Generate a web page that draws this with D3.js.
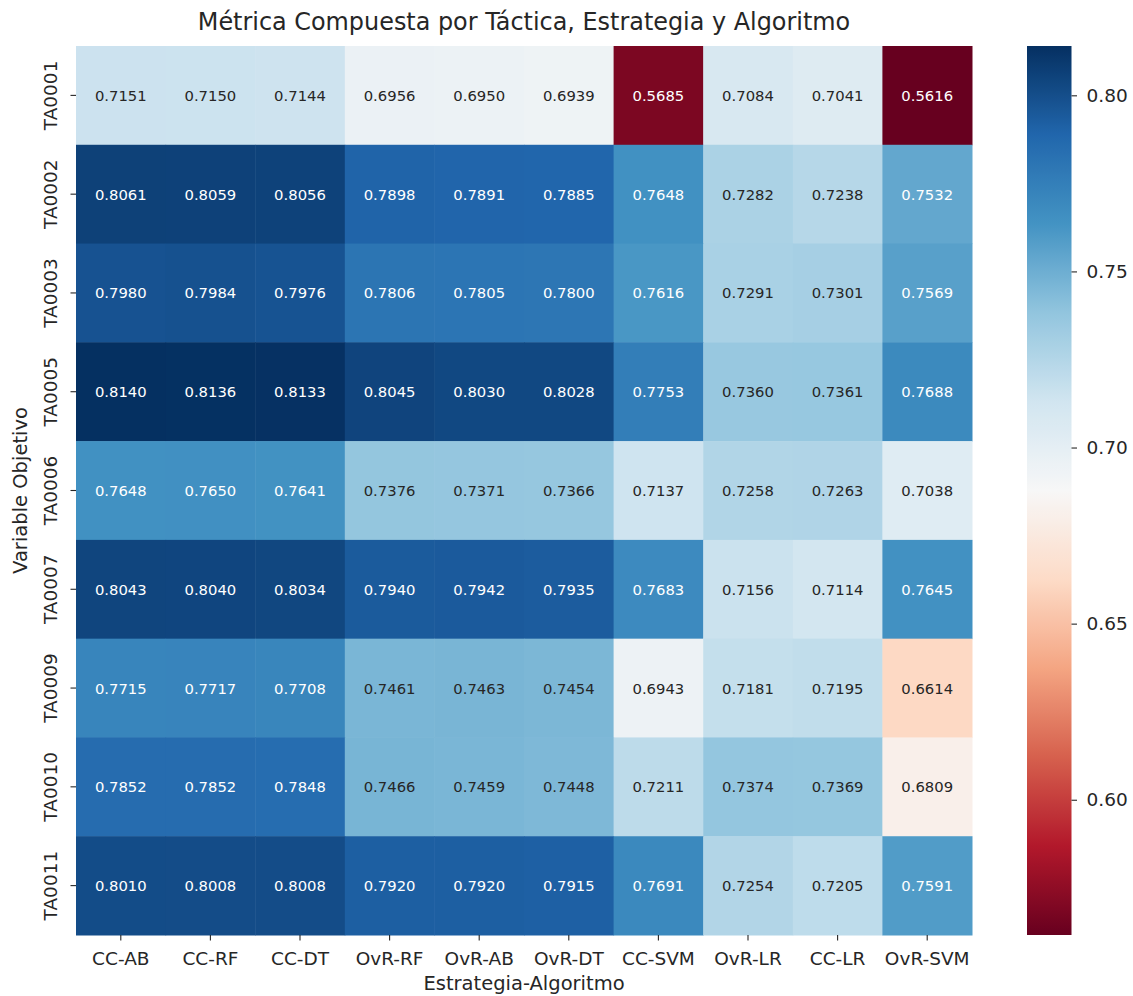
<!DOCTYPE html>
<html>
<head>
<meta charset="utf-8">
<script src="https://cdn.jsdelivr.net/npm/d3@7"></script>
<style>
  html, body { margin: 0; padding: 0; background: #fff; }
  svg { display: block; font-family: "DejaVu Sans", sans-serif; }
</style>
</head>
<body>
<svg id="chart" width="1133" height="996"></svg>
<script>
// Row and column labels
const tactics = ["TA0001", "TA0002", "TA0003", "TA0005", "TA0006", "TA0007", "TA0009", "TA0010", "TA0011"];
const models = ["CC-AB", "CC-RF", "CC-DT", "OvR-RF", "OvR-AB", "OvR-DT", "CC-SVM", "OvR-LR", "CC-LR", "OvR-SVM"];

// Composite metric, one array per tactic (in model order)
const TA0001 = [0.7151, 0.7150, 0.7144, 0.6956, 0.6950, 0.6939, 0.5685, 0.7084, 0.7041, 0.5616];
const TA0002 = [0.8061, 0.8059, 0.8056, 0.7898, 0.7891, 0.7885, 0.7648, 0.7282, 0.7238, 0.7532];
const TA0003 = [0.7980, 0.7984, 0.7976, 0.7806, 0.7805, 0.7800, 0.7616, 0.7291, 0.7301, 0.7569];
const TA0005 = [0.8140, 0.8136, 0.8133, 0.8045, 0.8030, 0.8028, 0.7753, 0.7360, 0.7361, 0.7688];
const TA0006 = [0.7648, 0.7650, 0.7641, 0.7376, 0.7371, 0.7366, 0.7137, 0.7258, 0.7263, 0.7038];
const TA0007 = [0.8043, 0.8040, 0.8034, 0.7940, 0.7942, 0.7935, 0.7683, 0.7156, 0.7114, 0.7645];
const TA0009 = [0.7715, 0.7717, 0.7708, 0.7461, 0.7463, 0.7454, 0.6943, 0.7181, 0.7195, 0.6614];
const TA0010 = [0.7852, 0.7852, 0.7848, 0.7466, 0.7459, 0.7448, 0.7211, 0.7374, 0.7369, 0.6809];
const TA0011 = [0.8010, 0.8008, 0.8008, 0.7920, 0.7920, 0.7915, 0.7691, 0.7254, 0.7205, 0.7591];

const colorbarTicks = [0.60, 0.65, 0.70, 0.75, 0.80];

const rows = [TA0001, TA0002, TA0003, TA0005, TA0006, TA0007, TA0009, TA0010, TA0011];
const cells = [];
rows.forEach((vals, i) => vals.forEach((v, j) => cells.push({ row: tactics[i], col: models[j], value: v })));

// Layout
const svg = d3.select("#chart");
const plot = { left: 76, top: 46, right: 972, bottom: 935 };
const cbar = { left: 1027, right: 1071.5 };
const ink = "#262626";
const tickFont = 18.5;

const x = d3.scaleBand().domain(models).range([plot.left, plot.right]);
const y = d3.scaleBand().domain(tactics).range([plot.top, plot.bottom]);

// Diverging red-blue palette, piecewise linear through the 11 ColorBrewer anchors
const rdbu = ["#67001f", "#b2182b", "#d6604d", "#f4a582", "#fddbc7", "#f7f7f7",
              "#d1e5f0", "#92c5de", "#4393c3", "#2166ac", "#053061"];
const ramp = d3.scaleLinear().domain(d3.range(11).map(k => k / 10)).range(rdbu).interpolate(d3.interpolateRgb);
const all = cells.map(d => d.value);
const vmin = d3.min(all), vmax = d3.max(all);
const norm = d3.scaleLinear().domain([vmin, vmax]).range([0, 1]).clamp(true);
const color = v => ramp(norm(v));

// Cells
svg.append("g").selectAll("rect").data(cells).join("rect")
  .attr("x", d => x(d.col))
  .attr("y", d => y(d.row))
  .attr("width", x.bandwidth() + 0.5)
  .attr("height", y.bandwidth() + 0.5)
  .attr("fill", d => color(d.value));

// Annotations: light text on dark cells, dark text on light cells
function luminance(c) {
  const rgb = d3.rgb(c);
  const lin = u => { u /= 255; return u <= 0.03928 ? u / 12.92 : Math.pow((u + 0.055) / 1.055, 2.4); };
  return 0.2126 * lin(rgb.r) + 0.7152 * lin(rgb.g) + 0.0722 * lin(rgb.b);
}
svg.append("g").selectAll("text").data(cells).join("text")
  .attr("x", d => x(d.col) + x.bandwidth() / 2)
  .attr("y", d => y(d.row) + y.bandwidth() / 2)
  .attr("text-anchor", "middle")
  .attr("dominant-baseline", "central")
  .attr("font-size", 14.8)
  .attr("fill", d => luminance(color(d.value)) > 0.408 ? ink : "#ffffff")
  .text(d => d.value.toFixed(4));

// Axes
const xAxis = svg.append("g")
  .attr("transform", `translate(0,${plot.bottom})`)
  .call(d3.axisBottom(x).tickSize(5.5));
const yAxis = svg.append("g")
  .attr("transform", `translate(${plot.left},0)`)
  .call(d3.axisLeft(y).tickSize(5.5));
[xAxis, yAxis].forEach(g => {
  g.select(".domain").remove();
  g.selectAll(".tick line").attr("stroke", ink).attr("stroke-width", 1.1);
  g.selectAll(".tick text").attr("fill", ink).attr("font-size", tickFont)
    .attr("font-family", "DejaVu Sans, sans-serif");
});
xAxis.selectAll(".tick text").attr("y", 17).attr("dy", "0.71em");
yAxis.selectAll(".tick text")
  .attr("transform", "rotate(-90)")
  .attr("x", 0).attr("y", -19.5)
  .attr("dy", "0")
  .attr("text-anchor", "middle");

// Colorbar
const cy = d3.scaleLinear().domain([vmin, vmax]).range([plot.bottom, plot.top]);
const grad = svg.append("defs").append("linearGradient")
  .attr("id", "cbgrad").attr("x1", 0).attr("y1", 1).attr("x2", 0).attr("y2", 0);
d3.range(0, 1.0001, 0.01).forEach(t => {
  grad.append("stop").attr("offset", t).attr("stop-color", ramp(t));
});
svg.append("rect")
  .attr("x", cbar.left).attr("y", plot.top)
  .attr("width", cbar.right - cbar.left).attr("height", plot.bottom - plot.top)
  .attr("fill", "url(#cbgrad)");
const cAxis = svg.append("g")
  .attr("transform", `translate(${cbar.right},0)`)
  .call(d3.axisRight(cy).tickValues(colorbarTicks).tickFormat(d3.format(".2f")).tickSize(5.5).tickPadding(9.5));
cAxis.select(".domain").remove();
cAxis.selectAll(".tick line").attr("stroke", ink).attr("stroke-width", 1.1);
cAxis.selectAll(".tick text").attr("fill", ink).attr("font-size", tickFont)
  .attr("font-family", "DejaVu Sans, sans-serif");

// Titles
svg.append("text")
  .attr("x", (plot.left + plot.right) / 2).attr("y", 30)
  .attr("text-anchor", "middle").attr("font-size", 23.9).attr("fill", ink)
  .text("Métrica Compuesta por Táctica, Estrategia y Algoritmo");
svg.append("text")
  .attr("x", (plot.left + plot.right) / 2).attr("y", 990)
  .attr("text-anchor", "middle").attr("font-size", 19.5).attr("fill", ink)
  .text("Estrategia-Algoritmo");
svg.append("text")
  .attr("transform", `translate(27,${(plot.top + plot.bottom) / 2}) rotate(-90)`)
  .attr("text-anchor", "middle").attr("font-size", 19.5).attr("fill", ink)
  .text("Variable Objetivo");
</script>
</body>
</html>
